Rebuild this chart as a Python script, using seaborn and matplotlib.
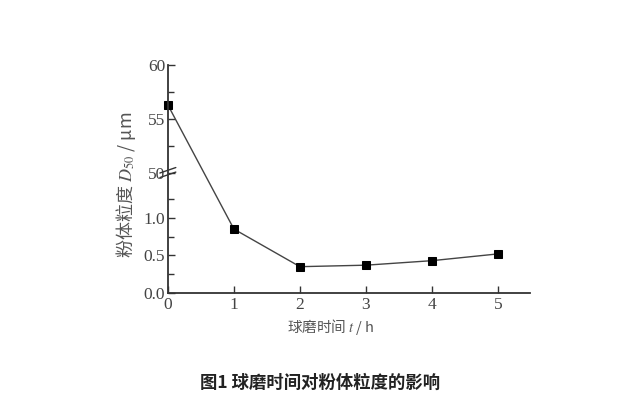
import numpy as np
import pandas as pd
import matplotlib.pyplot as plt
import seaborn as sns

# 球磨时间 (h) 与 粉体粒度 D50 (μm)
hours = [0, 1, 2, 3, 4, 5]
d50 = [56.3, 0.85, 0.35, 0.37, 0.43, 0.52]

yticks = [0.0, 0.5, 1.0, 50, 55, 60]
ytick_labels = ['0.0', '0.5', '1.0', '50', '55', '60']
yminor = [0.25, 0.75, 1.25, 52.5, 57.5]

df = pd.DataFrame({'t': hours, 'D50': d50})

sns.set_style('ticks')
plt.rcParams['font.family'] = ['Liberation Serif', 'Noto Sans CJK SC']
plt.rcParams['mathtext.fontset'] = 'stix'

# 断轴: 下段 0~1.6, 上段 50~60
B, U0, g = 1.6, 50.0, 1e-3
r = 10.7 / 75.0


def fwd(y):
    y = np.asarray(y, dtype=float)
    return np.where(y <= B, y,
                    np.where(y >= U0, B + g + (y - U0) * r,
                             B + (y - B) * g / (U0 - B)))


def inv(v):
    v = np.asarray(v, dtype=float)
    return np.where(v <= B, v,
                    np.where(v >= B + g, U0 + (v - B - g) / r,
                             B + (v - B) * (U0 - B) / g))


fig = plt.figure(figsize=(6.24, 4.18), dpi=100)
ax = fig.add_axes([0.269, 0.299, 0.58, 0.545])

sns.lineplot(data=df, x='t', y='D50', ax=ax, color='#444444', linewidth=1.0,
             marker='s', markersize=6, markerfacecolor='black',
             markeredgecolor='black', clip_on=False)

ax.set_yscale('function', functions=(fwd, inv))
ax.set_ylim(0, 60)
ax.set_xlim(0, 5.48)
ax.set_yticks(yticks)
ax.set_yticklabels(ytick_labels)
ax.set_yticks(yminor, minor=True)
ax.set_xticks(hours)
ax.set_xticklabels([str(h) for h in hours])

sns.despine(ax=ax)
for s in ['left', 'bottom']:
    ax.spines[s].set_color('#333333')
    ax.spines[s].set_linewidth(1.3)

ax.tick_params(axis='both', which='major', direction='in', length=5, width=1.0,
               color='#333333', labelcolor='#444444', labelsize=12.5)
ax.tick_params(axis='y', which='minor', direction='in', length=4, width=1.0,
               color='#333333')
ax.tick_params(axis='x', pad=3)
ax.tick_params(axis='y', pad=2)

# 断轴标记
yb = fwd(U0) / fwd(60)
for dy in (-0.01, 0.01):
    ax.plot([-0.022, 0.022], [yb + dy - 0.012, yb + dy + 0.012],
            transform=ax.transAxes, color='#333333', linewidth=1.0,
            clip_on=False)

ax.set_xlabel('球磨时间 $t$ / h', color='#555555', fontsize=10.5, labelpad=3,
              x=0.45, family=['Noto Sans CJK SC', 'Liberation Serif'])
ax.set_ylabel('粉体粒度 $D_{50}$ / μm', color='#555555', fontsize=13,
              labelpad=4, y=0.475, family=['Noto Sans CJK SC', 'Liberation Serif'])

fig.text(0.513, 0.084, '图1 球磨时间对粉体粒度的影响', ha='center', va='center',
         fontsize=12.5, fontweight='bold', color='#222222',
         family=['Noto Sans CJK SC', 'DejaVu Sans'])

fig.savefig('out.png', dpi=100)
